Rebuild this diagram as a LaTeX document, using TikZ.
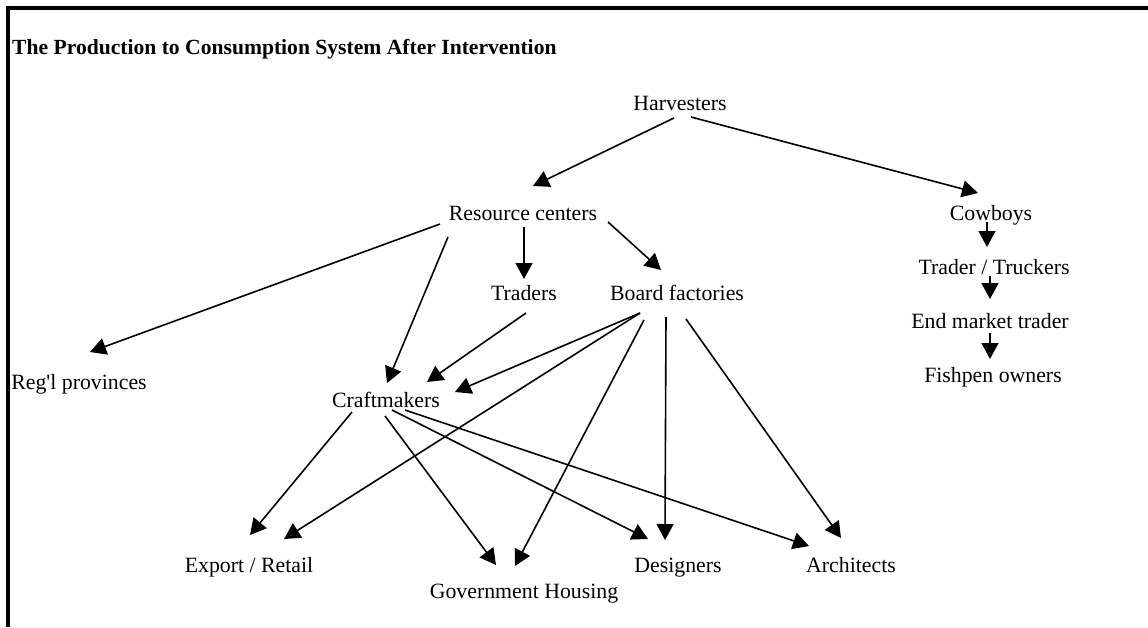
\documentclass[tikz,border=0pt]{standalone}
\usepackage{fontspec}
\setmainfont{Liberation Serif}
\usetikzlibrary{arrows.meta}

\begin{document}
\begin{tikzpicture}
        [%%%%%%%%%%%%%%%%%%%%%%%%%%%%%%
        x=1pt, y=-1pt,
        lbl/.style={inner sep=0pt, text height=15pt, text depth=5pt,
                    font=\fontsize{21.8}{26}\selectfont},
        arr/.style={-{Triangle[length=16pt,width=17pt]}, line width=1.6pt},
        ]%%%%%%%%%%%%%%%%%%%%%%%%%%%%%%
        \useasboundingbox (0,0) rectangle (1148,627);
        % Frame
        \draw[line width=4pt] (8,627) -- (8,8) -- (1148,8);
        \node[lbl, anchor=west, font=\fontsize{21.6}{26}\selectfont\bfseries] (title) at (12,49)
          {The Production to Consumption System After Intervention};
        % Labels
        \node[lbl] (hv) at (680,105) {Harvesters};
        \node[lbl] (rc) at (523,215) {Resource centers};
        \node[lbl] (tr) at (524,295) {Traders};
        \node[lbl] (bf) at (677,295) {Board factories};
        \node[lbl] (rp) at (79,384) {Reg\textquotesingle l provinces};
        \node[lbl] (cm) at (386,402) {Craftmakers};
        \node[lbl] (er) at (249,567) {Export / Retail};
        \node[lbl] (gh) at (524,593) {Government Housing};
        \node[lbl] (ds) at (678,567) {Designers};
        \node[lbl] (ar) at (851,567) {Architects};
        \node[lbl] (cb) at (991,215) {Cowboys};
        \node[lbl] (tt) at (994,269) {Trader / Truckers};
        \node[lbl] (em) at (990,323) {End market trader};
        \node[lbl] (fp) at (993,377) {Fishpen owners};
        % Harvesters
        \draw[arr] ([shift={(-6,13)}]hv.center) -- ([shift={(10,-29)}]rc.center);
        \draw[arr] ([shift={(11,12)}]hv.center) -- ([shift={(-13,-22)}]cb.center);
        % Resource centers
        \draw[arr] ([shift={(-83,9)}]rc.center) -- ([shift={(11,-32)}]rp.center);
        \draw[arr] ([shift={(-75,22)}]rc.center) -- ([shift={(1,-19)}]cm.center);
        \draw[arr] ([shift={(1,12)}]rc.center) -- ([shift={(0,-16)}]tr.center);
        \draw[arr] ([shift={(85,7)}]rc.center) -- ([shift={(-16,-25)}]bf.center);
        \draw[arr] ([shift={(2,18)}]tr.center) -- ([shift={(41,-20)}]cm.center);
        % Board factories
        \draw[arr] ([shift={(-37,18)}]bf.center) -- ([shift={(69,-10)}]cm.center);
        \draw[arr] ([shift={(-37,18)}]bf.center) -- ([shift={(35,-28)}]er.center);
        \draw[arr] ([shift={(-33,25)}]bf.center) -- ([shift={(-9,-27)}]gh.center);
        \draw[arr] ([shift={(-11,22)}]bf.center) -- ([shift={(-13,-27)}]ds.center);
        \draw[arr] ([shift={(9,24)}]bf.center) -- ([shift={(-10,-29)}]ar.center);
        % Craftmakers
        \draw[arr] ([shift={(-34,10)}]cm.center) -- ([shift={(1,-32)}]er.center);
        \draw[arr] ([shift={(-1,14)}]cm.center) -- ([shift={(-28,-28)}]gh.center);
        \draw[arr] ([shift={(6,8)}]cm.center) -- ([shift={(-30,-28)}]ds.center);
        \draw[arr] ([shift={(19,8)}]cm.center) -- ([shift={(-42,-21)}]ar.center);
        % Fishpen chain
        \draw[arr] ([shift={(-4,7)}]cb.center) -- ([shift={(-7,-22)}]tt.center);
        \draw[arr] ([shift={(-4,7)}]tt.center) -- ([shift={(0,-24)}]em.center);
        \draw[arr] ([shift={(0,10)}]em.center) -- ([shift={(-3,-18)}]fp.center);
      \end{tikzpicture}
\end{document}
